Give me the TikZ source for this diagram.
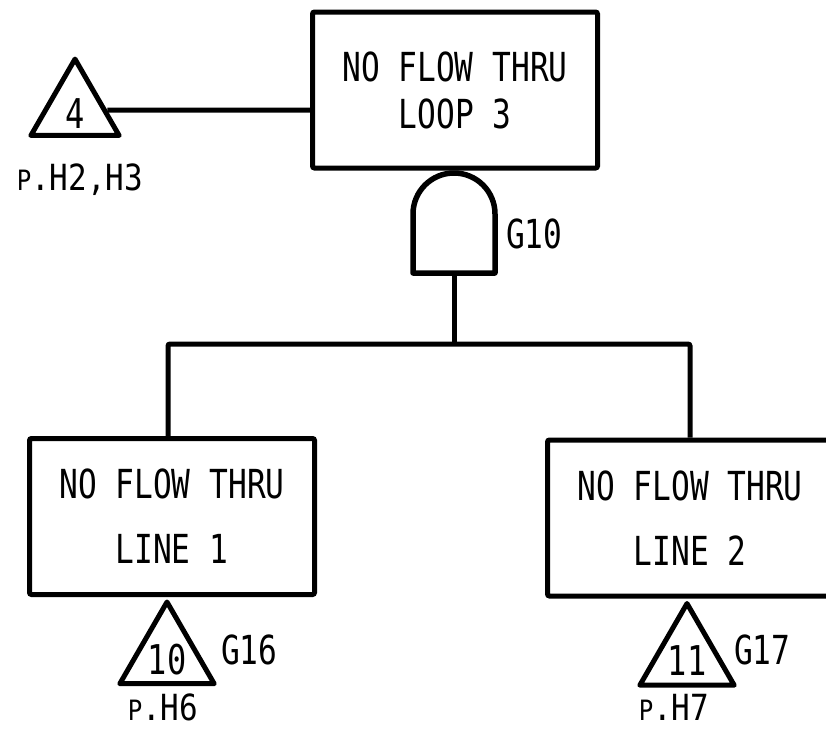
\documentclass[tikz,border=0pt]{standalone}
\usepackage{fontspec}
\setmainfont{DejaVu Sans Mono}[FakeStretch=0.78]
\newfontfamily\lblfont{DejaVu Sans Mono}[FakeStretch=0.86]
\usetikzlibrary{shapes.geometric}
\begin{document}
\begin{tikzpicture}[x=1pt,y=1pt,
  lw/.style={line width=5pt},
  eventbox/.style={draw, lw, rounded corners=2pt, minimum width=285pt, minimum height=156pt,
    align=center, inner sep=0pt, font=\fontsize{40}{65}\selectfont},
  transfer/.style={draw, lw, line join=round, regular polygon, regular polygon sides=3,
    minimum size=95pt, inner sep=0pt, text height=36pt, text depth=0pt,
    font=\fontsize{41}{41}\selectfont},
  gatelbl/.style={font=\fontsize{40}{40}\selectfont, inner sep=0pt},
  pagelbl/.style={font=\lblfont\fontsize{36}{36}\selectfont, inner sep=0pt}]
\useasboundingbox (0,0) rectangle (826,-731);
\fill[white] (0,0) rectangle (826,-731);
\begin{scope}
\clip (0,0) rectangle (826,-731);
% event boxes
\node[eventbox, font=\fontsize{40}{47}\selectfont] (top) at (455,-90) {NO FLOW THRU\\LOOP 3};
\node[eventbox] (l1) at (172,-516.5) {NO FLOW THRU\\LINE 1};
\node[eventbox] (l2) at (690,-518) {NO FLOW THRU\\LINE 2};

% AND gate G10
\coordinate (g10in) at (454,-173);
\coordinate (g10out) at (454,-273);
\draw[line width=5.5pt, line join=round] (413,-273) -- (413,-214)
  arc[start angle=180, end angle=0, radius=41] -- (495,-273) -- cycle;
\node[gatelbl, anchor=west] (g10) at (506,-234) {G10};

% tree connectors
\coordinate (j) at (454,-344);
\draw[lw] (g10out) -- (j);
\draw[lw, rounded corners=2pt] ([xshift=-4pt]l1.north) |- (j) -| (l2.north);

% transfer triangles
\node[transfer] (t4) at (75,-110) {4};
\draw[lw] (t4) -- (t4 -| top.west);
\node[pagelbl] (p4) at (80,-180) {{\fontsize{28}{28}\selectfont P}.H2,H3};

\node[transfer, anchor=corner 1] (t10) at ([xshift=-5pt]l1.south) {10};
\node[gatelbl, anchor=west] (g16) at (221,-650) {G16};
\node[pagelbl] (p10) at (163,-707) {{\fontsize{28}{28}\selectfont P}.H6};

\node[transfer, anchor=corner 1] (t11) at ([xshift=-3pt]l2.south) {11};
\node[gatelbl, anchor=west] (g17) at (734,-650) {G17};
\node[pagelbl] (p11) at (674,-707) {{\fontsize{28}{28}\selectfont P}.H7};
\end{scope}
\end{tikzpicture}
\end{document}
